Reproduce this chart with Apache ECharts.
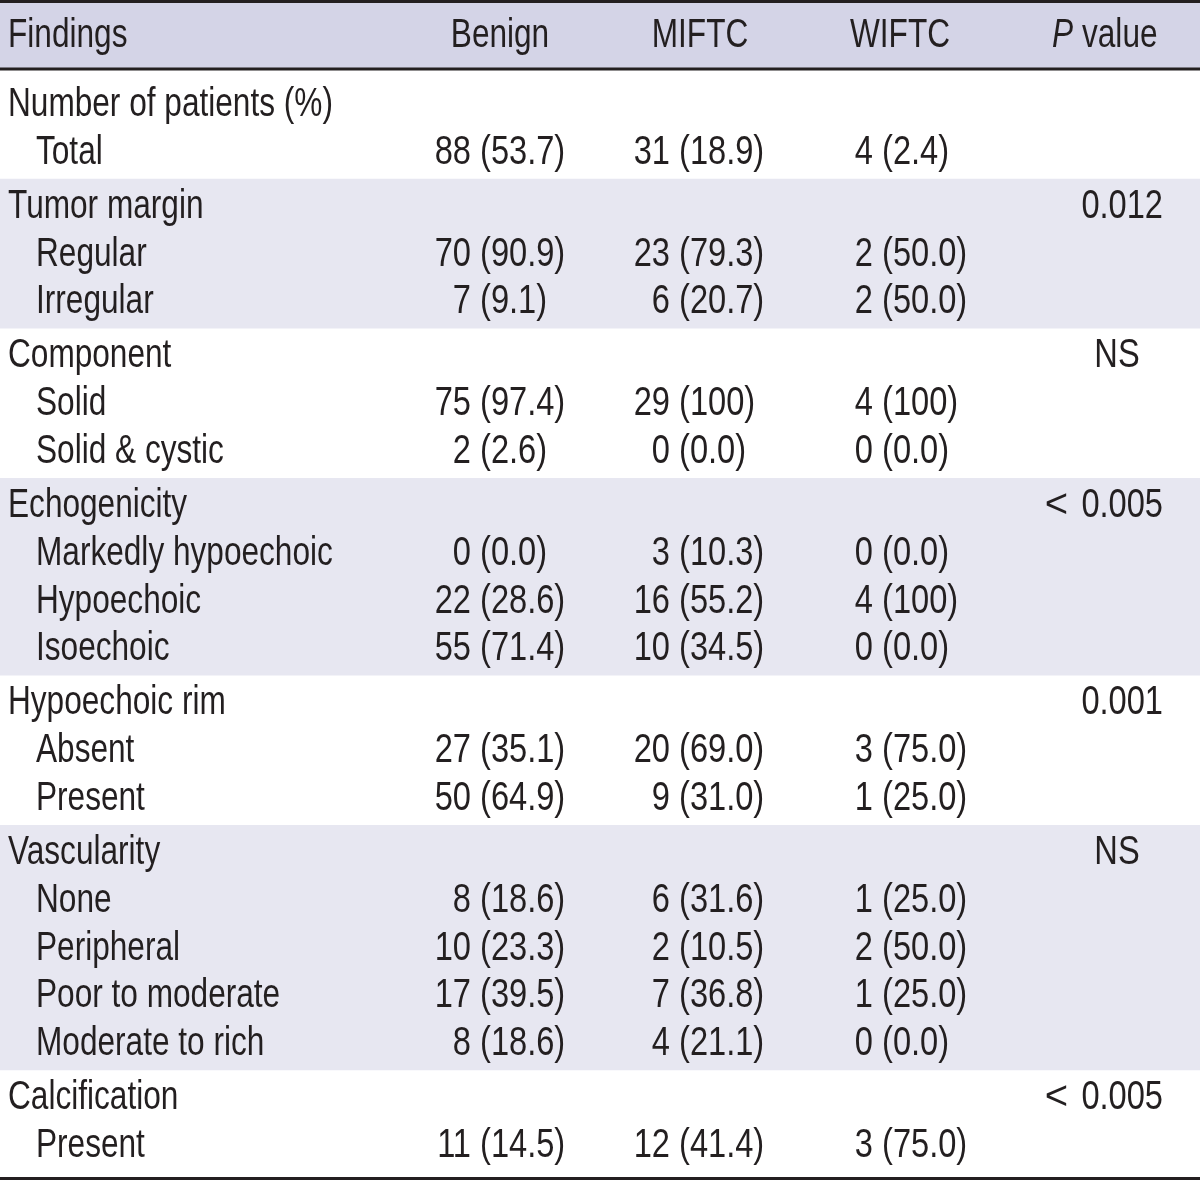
<!DOCTYPE html>
<html>
<head>
<meta charset="utf-8">
<script src="https://cdn.jsdelivr.net/npm/echarts@6/dist/echarts.min.js"></script>
<style>
html,body{margin:0;padding:0;background:#fff;}
#chart{width:1200px;height:1180px;}
</style>
</head>
<body>
<div id="chart"></div>
<script>
// ---------- DATA ----------
const colHeaders = ['Findings', 'Benign', 'MIFTC', 'WIFTC', 'value'];
const groupLabels = ['Number of patients (%)', 'Tumor margin', 'Component', 'Echogenicity', 'Hypoechoic rim', 'Vascularity', 'Calcification'];
const groupP = ['', '0.012', 'NS', '< 0.005', '0.001', 'NS', '< 0.005'];
const subLabels = [
  ['Total'],
  ['Regular', 'Irregular'],
  ['Solid', 'Solid & cystic'],
  ['Markedly hypoechoic', 'Hypoechoic', 'Isoechoic'],
  ['Absent', 'Present'],
  ['None', 'Peripheral', 'Poor to moderate', 'Moderate to rich'],
  ['Present']
];
const benignN   = [88, 70, 7, 75, 2, 0, 22, 55, 27, 50, 8, 10, 17, 8, 11];
const benignPct = [53.7, 90.9, 9.1, 97.4, 2.6, 0.0, 28.6, 71.4, 35.1, 64.9, 18.6, 23.3, 39.5, 18.6, 14.5];
const miftcN    = [31, 23, 6, 29, 0, 3, 16, 10, 20, 9, 6, 2, 7, 4, 12];
const miftcPct  = [18.9, 79.3, 20.7, 100, 0.0, 10.3, 55.2, 34.5, 69.0, 31.0, 31.6, 10.5, 36.8, 21.1, 41.4];
const wiftcN    = [4, 2, 2, 4, 0, 0, 4, 0, 3, 1, 1, 2, 1, 0, 3];
const wiftcPct  = [2.4, 50.0, 50.0, 100, 0.0, 0.0, 100, 0.0, 75.0, 25.0, 25.0, 50.0, 25.0, 0.0, 75.0];

// ---------- LAYOUT ----------
const W = 1200, H = 1180;
const HEADER_Y = 35, HEADER_BOTTOM = 69;
const ROW0 = 104, ROWH = 47.8, GAP = 6.2;
const FONT = '"Liberation Sans", Arial, sans-serif';
const FS = 40;
const SX = 0.79;          // horizontal condensing of the font (labels)
const SX_NUM = 0.815;     // horizontal condensing for numeric cells
const DY = 1;             // vertical text nudge
const INK = '#231f20';
const HEADER_BG = '#d4d4e7';
const BAND_BG = '#e7e7f1';
const X_LABEL = 8, X_SUB = 36;
const anchors = [471, 670, 873];   // count/percent split point per data column
const headerCenters = [500, 700, 900];
const X_P_RIGHT = 1163, X_P_CENTER = 1117, X_P_SIGN = 1068;

const numCols = [[benignN, benignPct], [miftcN, miftcPct], [wiftcN, wiftcPct]];
const fmtPct = p => p === 100 ? '100' : p.toFixed(1);

// Build flat rows
const rows = [];
const bands = [];
let k = 0, s = 0;
groupLabels.forEach((gl, g) => {
  const first = ROW0 + k * ROWH + g * GAP;
  rows.push({ y: first, label: gl, sub: false, p: groupP[g] });
  k++;
  subLabels[g].forEach(sl => {
    const y = ROW0 + k * ROWH + g * GAP;
    rows.push({ y, label: sl, sub: true, idx: s });
    k++; s++;
  });
  const last = ROW0 + (k - 1) * ROWH + g * GAP;
  if (g % 2 === 1) bands.push([first - ROWH / 2 - GAP / 2, last + ROWH / 2 + GAP / 2]);
});

function txt(x, y, text, align, extra, sx) {
  return {
    type: 'text', x, y: y + DY, scaleX: sx || SX, scaleY: 1,
    style: Object.assign({
      text, fill: INK, fontSize: FS, fontFamily: FONT,
      align, verticalAlign: 'middle'
    }, extra || {})
  };
}

const chart = echarts.init(document.getElementById('chart'), null, { renderer: 'canvas' });
chart.setOption({
  animation: false,
  backgroundColor: '#fff',
  grid: { left: 0, right: 0, top: 0, bottom: 0 },
  xAxis: { type: 'value', min: 0, max: W, show: false },
  yAxis: { type: 'value', min: 0, max: H, inverse: true, show: false },
  series: [
    { // header background + group bands
      type: 'custom', silent: true, z: 1,
      data: [[0, HEADER_BOTTOM]].concat(bands.map(b => [b[0], b[1]])),
      renderItem: (params, api) => {
        const i = params.dataIndex;
        const y0 = api.value(0), y1 = api.value(1);
        const p0 = api.coord([0, y0]), p1 = api.coord([W, y1]);
        return { type: 'rect', shape: { x: p0[0], y: p0[1], width: p1[0] - p0[0], height: p1[1] - p0[1] },
                 style: { fill: i === 0 ? HEADER_BG : BAND_BG } };
      }
    },
    { // horizontal rules
      type: 'custom', silent: true, z: 3,
      data: [[1.5], [HEADER_BOTTOM], [H - 1.5]],
      renderItem: (params, api) => {
        const y = api.value(0);
        const a = api.coord([0, y]), b = api.coord([W, y]);
        return { type: 'line', shape: { x1: a[0], y1: a[1], x2: b[0], y2: b[1] },
                 style: { stroke: INK, lineWidth: 3 } };
      }
    },
    { // header texts
      type: 'custom', silent: true, z: 4,
      data: [[HEADER_Y]],
      renderItem: (params, api) => {
        const X = v => api.coord([v, HEADER_Y])[0];
        const y = api.coord([0, HEADER_Y])[1];
        const ch = [txt(X(X_LABEL), y, colHeaders[0], 'left')];
        headerCenters.forEach((c, j) => ch.push(txt(X(c), y, colHeaders[j + 1], 'center')));
        ch.push(txt(X(1052), y, 'P', 'left', { fontStyle: 'italic' }));
        ch.push(txt(X(1082), y, colHeaders[4], 'left'));
        return { type: 'group', children: ch };
      }
    },
    { // body cells
      type: 'custom', silent: true, z: 4,
      data: rows.map((r, i) => [i, r.y]),
      renderItem: (params, api) => {
        const r = rows[params.dataIndex];
        const X = v => api.coord([v, r.y])[0];
        const y = api.coord([0, r.y])[1];
        const ch = [txt(X(r.sub ? X_SUB : X_LABEL), y, r.label, 'left')];
        if (r.sub) {
          numCols.forEach((col, j) => {
            ch.push(txt(X(anchors[j]), y, String(col[0][r.idx]), 'right', null, SX_NUM));
            ch.push(txt(X(anchors[j]), y, ' (' + fmtPct(col[1][r.idx]) + ')', 'left', null, SX_NUM));
          });
        } else if (r.p) {
          if (/\d/.test(r.p)) {
            const parts = r.p.split(' ');
            const num = parts.pop();
            ch.push(txt(X(X_P_RIGHT), y, num, 'right', null, SX_NUM));
            if (parts.length) ch.push(txt(X(X_P_SIGN), y, parts.join(' '), 'right', null, 1.0));
          }
          else ch.push(txt(X(X_P_CENTER), y, r.p, 'center', null, SX_NUM));
        }
        return { type: 'group', children: ch };
      }
    }
  ]
});
</script>
</body>
</html>
